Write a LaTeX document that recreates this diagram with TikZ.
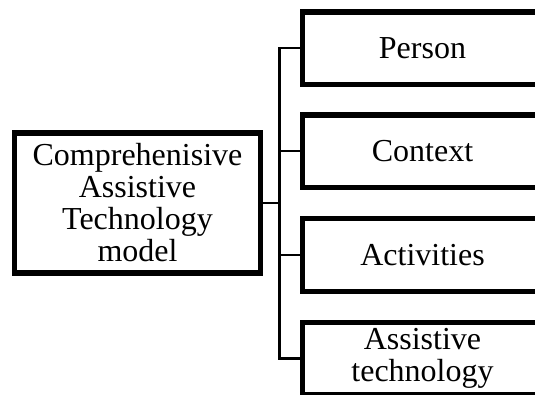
\documentclass[tikz,border=0pt]{standalone}
\usepackage{fontspec}
\setmainfont{Liberation Serif}
\begin{document}
\begin{tikzpicture}[x=0.75pt, y=-0.75pt,
    box/.style={draw, line width=4.1pt, inner sep=0pt, align=center,
      font=\fontsize{24}{24}\selectfont},
    part/.style={box, minimum width=180pt, minimum height=54.4pt},
    link/.style={line width=1.65pt}]
  \useasboundingbox (0,0) rectangle (535,394);
  \clip (0,0) rectangle (535,394);

  \node[box, minimum width=184.5pt, minimum height=105pt] (0) at (137.5,203) {Comprehenisive\\Assistive\\Technology\\model};
  \node[part] (1) at (422.5,48.25) {Person};
  \node[part] (2) at (422.5,151.25) {Context};
  \node[part] (3) at (422.5,255) {Activities};
  \node[part] (4) at (422.5,358.5) {Assistive\\technology};

  \coordinate (t) at (279.5,203);
  \draw[link] (0) -- (t);
  \draw[link] (1.west) -| (t) |- (4.west);
  \draw[link] (2.west) -- (2.west -| t);
  \draw[link] (3.west) -- (3.west -| t);
\end{tikzpicture}
\end{document}
